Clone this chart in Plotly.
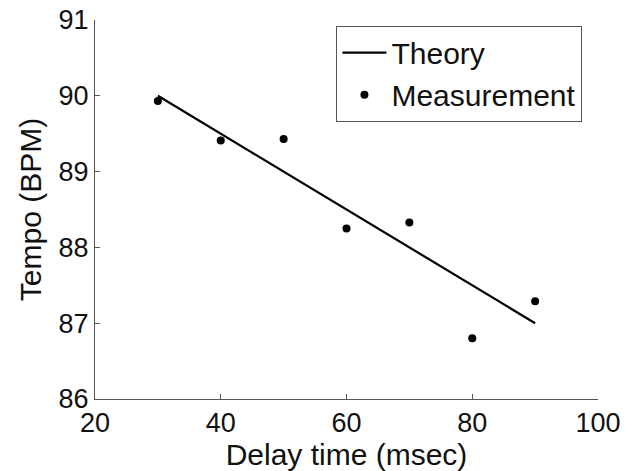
import plotly.graph_objects as go

delay_theory = [30, 40, 50, 60, 70, 80, 90]
tempo_theory = [90.0, 89.5, 89.0, 88.5, 88.0, 87.5, 87.0]
delay_meas = [30, 40, 50, 60, 70, 80, 90]
tempo_meas = [89.93, 89.41, 89.43, 88.25, 88.33, 86.80, 87.29]

x_ticks = [20, 40, 60, 80, 100]
y_ticks = [86, 87, 88, 89, 90, 91]

FONT = "Liberation Sans, Arial, Helvetica, sans-serif"
TICK_FS = 27
TITLE_FS = 30
LEG_FS = 30

fig = go.Figure()
fig.add_trace(go.Scatter(x=delay_theory, y=tempo_theory, mode="lines", name="Theory",
                         line=dict(color="black", width=2.2)))
fig.add_trace(go.Scatter(x=delay_meas, y=tempo_meas, mode="markers", name="Measurement",
                         marker=dict(color="black", size=8)))

fig.update_layout(
    width=633, height=471,
    margin=dict(l=95, r=35, t=20, b=72),
    paper_bgcolor="white", plot_bgcolor="white",
    font=dict(family=FONT, size=TICK_FS, color="#111"),
    showlegend=True,
    legend=dict(x=0.48, y=0.985, xanchor="left", yanchor="top",
                bordercolor="#555", borderwidth=1, bgcolor="white",
                font=dict(size=LEG_FS), tracegroupgap=0, itemwidth=44),
    xaxis=dict(range=[20, 100], tickvals=x_ticks, ticks="inside", ticklen=5,
               tickcolor="#555", showline=True, linecolor="#555", linewidth=1,
               showgrid=False, zeroline=False, mirror=False, automargin=False,
               tickfont=dict(size=TICK_FS),
               title=dict(text="Delay time (msec)", standoff=6, font=dict(size=TITLE_FS))),
    yaxis=dict(range=[86, 91], tickvals=y_ticks, ticks="inside", ticklen=5,
               tickcolor="#555", showline=True, linecolor="#555", linewidth=1,
               showgrid=False, zeroline=False, mirror=False, automargin=False,
               tickfont=dict(size=TICK_FS),
               title=dict(text="Tempo (BPM)", standoff=8, font=dict(size=TITLE_FS))),
)

fig.write_html("out.html", config={"displayModeBar": False},
               post_script="document.body.style.margin='0';")
